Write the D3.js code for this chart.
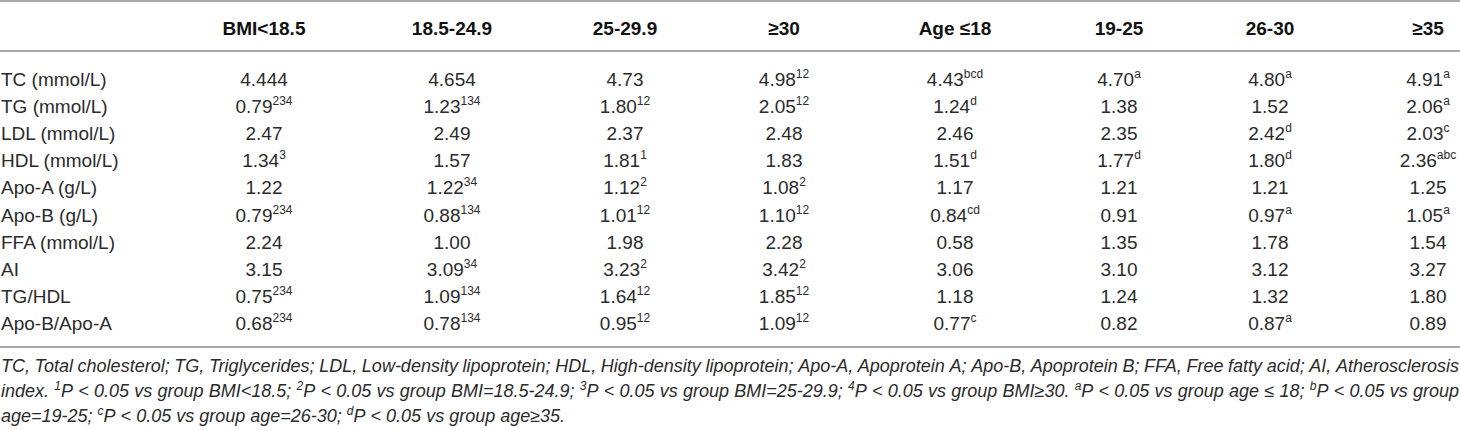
<!DOCTYPE html>
<html>
<head>
<meta charset="utf-8">
<script src="https://cdn.jsdelivr.net/npm/d3@7"></script>
<style>
  html, body { margin: 0; padding: 0; background: #fff; }
  svg { display: block; font-family: 'Liberation Sans', Arial, Helvetica, sans-serif; }
</style>
</head>
<body>
<div id="chart"></div>
<script>
/*
Table content. A "^" marks the start of a superscript in a cell.
*/
const groups = ['BMI<18.5', '18.5-24.9', '25-29.9', '≥30', 'Age ≤18', '19-25', '26-30', '≥35'];
const rows = ['TC (mmol/L)', 'TG (mmol/L)', 'LDL (mmol/L)', 'HDL (mmol/L)', 'Apo-A (g/L)', 'Apo-B (g/L)', 'FFA (mmol/L)', 'AI', 'TG/HDL', 'Apo-B/Apo-A'];

const tc = ['4.444', '4.654', '4.73', '4.98^12', '4.43^bcd', '4.70^a', '4.80^a', '4.91^a'];
const tg = ['0.79^234', '1.23^134', '1.80^12', '2.05^12', '1.24^d', '1.38', '1.52', '2.06^a'];
const ldl = ['2.47', '2.49', '2.37', '2.48', '2.46', '2.35', '2.42^d', '2.03^c'];
const hdl = ['1.34^3', '1.57', '1.81^1', '1.83', '1.51^d', '1.77^d', '1.80^d', '2.36^abc'];
const apoA = ['1.22', '1.22^34', '1.12^2', '1.08^2', '1.17', '1.21', '1.21', '1.25'];
const apoB = ['0.79^234', '0.88^134', '1.01^12', '1.10^12', '0.84^cd', '0.91', '0.97^a', '1.05^a'];
const ffa = ['2.24', '1.00', '1.98', '2.28', '0.58', '1.35', '1.78', '1.54'];
const ai = ['3.15', '3.09^34', '3.23^2', '3.42^2', '3.06', '3.10', '3.12', '3.27'];
const tgHdl = ['0.75^234', '1.09^134', '1.64^12', '1.85^12', '1.18', '1.24', '1.32', '1.80'];
const apoBA = ['0.68^234', '0.78^134', '0.95^12', '1.09^12', '0.77^c', '0.82', '0.87^a', '0.89'];
const cells = [tc, tg, ldl, hdl, apoA, apoB, ffa, ai, tgHdl, apoBA];

/*
Footnote lines. "^x" is a one character superscript.
*/
const notes = [
  'TC, Total cholesterol; TG, Triglycerides; LDL, Low-density lipoprotein; HDL, High-density lipoprotein; Apo-A, Apoprotein A; Apo-B, Apoprotein B; FFA, Free fatty acid; AI, Atherosclerosis',
  'index. ^1P < 0.05 vs group BMI<18.5; ^2P < 0.05 vs group BMI=18.5-24.9; ^3P < 0.05 vs group BMI=25-29.9; ^4P < 0.05 vs group BMI≥30. ^aP < 0.05 vs group age ≤ 18; ^bP < 0.05 vs group',
  'age=19-25; ^cP < 0.05 vs group age=26-30; ^dP < 0.05 vs group age≥35.'
];

/*
Layout.
*/
const width = 1460;
const height = 430;
const fontSize = 19;
const supSize = 12;
const ink = '#2b2b2b';
const ruleColor = '#a9a9a9';
const colCenters = [264, 452, 625, 784, 955, 1119, 1270, 1428];

const svg = d3.select('#chart').append('svg')
  .attr('width', width)
  .attr('height', height);

const x = d3.scaleOrdinal(groups, colCenters);
const y = d3.scaleBand(rows, [65, 337]);

/*
Rules.
*/
svg.append('g').attr('class', 'rules')
  .selectAll('line')
  .data([1, 51, 347])
  .join('line')
    .attr('x1', 0)
    .attr('x2', width)
    .attr('y1', d => d)
    .attr('y2', d => d)
    .style('stroke', ruleColor)
    .style('stroke-width', 2);

/*
Header.
*/
svg.append('g').attr('class', 'header')
  .selectAll('text')
  .data(groups)
  .join('text')
    .attr('x', d => x(d))
    .attr('y', 35)
    .attr('text-anchor', 'middle')
    .style('font-size', `${fontSize}px`)
    .style('font-weight', 'bold')
    .style('fill', '#111')
    .text(d => d);

/*
Row labels and cells.
*/
const baseline = r => y(r) + y.bandwidth() / 2 + 7;

const rowG = svg.append('g').attr('class', 'body')
  .selectAll('g')
  .data(rows.map((r, i) => ({ label: r, values: cells[i] })))
  .join('g');

rowG.append('text')
  .attr('x', 1)
  .attr('y', d => baseline(d.label))
  .style('font-size', `${fontSize}px`)
  .style('fill', ink)
  .text(d => d.label);

rowG.selectAll('text.cell')
  .data(d => d.values.map((v, j) => ({ row: d.label, group: groups[j], value: v })))
  .join('text')
    .attr('class', 'cell')
    .attr('x', d => x(d.group))
    .attr('y', d => baseline(d.row))
    .attr('text-anchor', 'middle')
    .style('font-size', `${fontSize}px`)
    .style('fill', ink)
    .each(function (d) {
      const [base, sup] = d.value.split('^');
      const t = d3.select(this);
      t.append('tspan').text(base);
      if (sup) t.append('tspan').attr('dy', -8).style('font-size', `${supSize}px`).text(sup);
    });

/*
Footnotes, justified like the printed table except the last line.
The font is shrunk a little when a line would not fit with normal spaces.
*/
const left = 1;
const right = 1459;
const noteBase = [372, 397, 422];
const minGap = 4.6;

const noteG = svg.append('g').attr('class', 'notes')
  .style('font-style', 'italic')
  .style('fill', ink);

const buildLine = (line, li, size) => {
  const words = line.split(' ');
  return words.map(w => {
    const t = noteG.append('text').attr('y', noteBase[li]).style('font-size', `${size}px`);
    let rest = w;
    while (rest.length) {
      const k = rest.indexOf('^');
      if (k === -1) { t.append('tspan').text(rest); rest = ''; }
      else {
        if (k > 0) t.append('tspan').text(rest.slice(0, k));
        t.append('tspan').attr('dy', -7).style('font-size', `${supSize}px`).text(rest[k + 1]);
        rest = rest.slice(k + 2);
        if (rest.length) t.append('tspan').attr('dy', 7).text(rest.slice(0, 1));
        rest = rest.slice(1);
      }
    }
    return t;
  });
};

// measure at full size first
let factor = 1;
notes.slice(0, 2).forEach((line, li) => {
  const nodes = buildLine(line, li, fontSize);
  const total = d3.sum(nodes, t => t.node().getComputedTextLength());
  const need = (right - left - minGap * (nodes.length - 1)) / total;
  factor = Math.min(factor, need);
  nodes.forEach(t => t.remove());
});
const noteSize = fontSize * factor;

notes.forEach((line, li) => {
  const nodes = buildLine(line, li, noteSize);
  const widths = nodes.map(t => t.node().getComputedTextLength());
  const total = d3.sum(widths);
  const last = li === notes.length - 1;
  const gap = last ? noteSize * 0.278 : (right - left - total) / (nodes.length - 1);
  let cx = left;
  nodes.forEach((t, i) => {
    t.attr('x', cx);
    cx += widths[i] + gap;
  });
});
</script>
</body>
</html>
